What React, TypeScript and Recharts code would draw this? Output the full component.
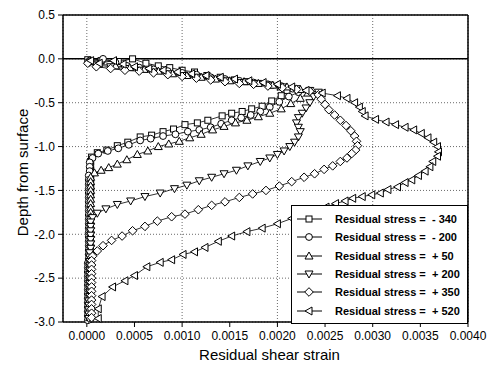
import React from "react";
import {
  LineChart,
  Line,
  XAxis,
  YAxis,
  CartesianGrid,
  ReferenceLine,
  Legend,
  Label,
} from "recharts";

type Pt = [number, number]; // [shear strain, depth]

// residual stress = -340
const STRESS_M340: Pt[] = [
  [0.00001, -0.01], [0.00015, -0.02], [0.00033, -0.03], [0.00048, 0.0], [0.00062, -0.05], [0.00075, -0.08],
  [0.00087, -0.1], [0.001, -0.13], [0.00113, -0.15], [0.00126, -0.19], [0.0014, -0.21], [0.00155, -0.24],
  [0.00168, -0.26], [0.0018, -0.28], [0.00193, -0.3], [0.00203, -0.32], [0.0021, -0.36],
  [0.00204, -0.42], [0.00194, -0.48], [0.00184, -0.54], [0.00173, -0.57], [0.00163, -0.6], [0.00152, -0.62],
  [0.00142, -0.65], [0.00127, -0.7], [0.00116, -0.73], [0.00103, -0.75], [0.00091, -0.8], [0.0008, -0.83],
  [0.00068, -0.87], [0.00056, -0.89], [0.00043, -0.95], [0.00032, -0.99], [0.00021, -1.04], [0.00011, -1.07],
  [0.00005, -1.12], [0.00004, -1.17], [0.00004, -1.22], [0.00004, -1.27], [0.00004, -1.32], [0.00004, -1.37],
  [0.00004, -1.42], [0.00004, -1.47], [0.00004, -1.52], [0.00003, -1.57], [0.00003, -1.62], [0.00003, -1.67],
  [0.00003, -1.72], [0.00003, -1.77], [0.00003, -1.82], [0.00003, -1.87], [0.00003, -1.92], [0.00003, -1.97],
  [0.00003, -2.02], [0.00003, -2.07], [0.00003, -2.12], [0.00003, -2.17], [0.00003, -2.22], [0.00003, -2.27],
  [0.00003, -2.32], [0.00003, -2.37], [0.00003, -2.42], [0.00003, -2.47], [0.00002, -2.52], [0.00002, -2.57],
  [0.00002, -2.62], [0.00002, -2.67], [0.00002, -2.72], [0.00002, -2.77], [0.00002, -2.82], [0.00002, -2.87],
  [0.00002, -2.92], [0.00002, -2.97],
];

// residual stress = -200
const STRESS_M200: Pt[] = [
  [0.00003, -0.02], [0.00017, 0.0], [0.0003, -0.04], [0.00042, -0.08], [0.00055, -0.1], [0.0007, -0.12],
  [0.00085, -0.14], [0.001, -0.16], [0.00115, -0.18], [0.0013, -0.21], [0.00145, -0.23], [0.0016, -0.25],
  [0.00175, -0.27], [0.0019, -0.29], [0.00204, -0.31], [0.00216, -0.34], [0.00222, -0.38],
  [0.00212, -0.43], [0.00202, -0.49], [0.00192, -0.55], [0.00182, -0.6], [0.00172, -0.64], [0.00162, -0.67],
  [0.00152, -0.7], [0.00141, -0.74], [0.0013, -0.78], [0.00118, -0.81], [0.00106, -0.83], [0.00093, -0.86],
  [0.0008, -0.88], [0.00067, -0.91], [0.00056, -0.93], [0.00044, -0.98], [0.00033, -1.02], [0.00022, -1.05],
  [0.00012, -1.08], [0.00006, -1.13], [0.00003, -1.18], [0.00003, -1.23], [0.00003, -1.28], [0.00002, -1.33],
  [0.00002, -1.38], [0.00002, -1.43], [0.00002, -1.48], [0.00002, -1.53], [0.00002, -1.58], [0.00002, -1.63],
  [0.00002, -1.68], [0.00002, -1.73], [0.00002, -1.78], [0.00002, -1.83], [0.00002, -1.88], [0.00002, -1.93],
  [0.00002, -1.98], [0.00002, -2.03], [0.00002, -2.08], [0.00002, -2.13], [0.00002, -2.18], [0.00002, -2.23],
  [0.00002, -2.28], [0.00001, -2.33], [0.00001, -2.38], [0.00001, -2.43], [0.00001, -2.48], [0.00001, -2.53],
  [0.00001, -2.58], [0.00001, -2.63], [0.00001, -2.68], [0.00001, -2.73], [0.00001, -2.78], [0.00001, -2.83],
  [0.00001, -2.88], [0.00001, -2.93], [0.00001, -2.98],
];

// residual stress = +50
const STRESS_P50: Pt[] = [
  [0.00002, -0.03], [0.00012, -0.06], [0.0003, -0.08], [0.00045, -0.1], [0.0006, -0.12], [0.00075, -0.14],
  [0.0009, -0.17], [0.00105, -0.19], [0.0012, -0.21], [0.00135, -0.23], [0.0015, -0.25], [0.00165, -0.26],
  [0.0018, -0.28], [0.00195, -0.3], [0.0021, -0.32], [0.00224, -0.35], [0.00232, -0.39],
  [0.00224, -0.45], [0.00214, -0.51], [0.00204, -0.57], [0.00192, -0.62], [0.0018, -0.66], [0.00168, -0.7],
  [0.00156, -0.73], [0.00144, -0.77], [0.00132, -0.81], [0.0012, -0.86], [0.00108, -0.9], [0.00097, -0.94],
  [0.00086, -0.97], [0.00075, -1.0], [0.00064, -1.05], [0.00053, -1.09], [0.00042, -1.15], [0.00032, -1.2],
  [0.00023, -1.24], [0.00015, -1.27], [0.00008, -1.3], [0.00004, -1.35], [0.00004, -1.4], [0.00004, -1.45],
  [0.00004, -1.5], [0.00004, -1.55], [0.00004, -1.6], [0.00004, -1.65], [0.00004, -1.7], [0.00004, -1.75],
  [0.00004, -1.8], [0.00004, -1.85], [0.00004, -1.9], [0.00004, -1.95], [0.00004, -2.0], [0.00004, -2.05],
  [0.00004, -2.1], [0.00004, -2.15], [0.00004, -2.2], [0.00004, -2.25], [0.00003, -2.3], [0.00003, -2.35],
  [0.00003, -2.4], [0.00003, -2.45], [0.00003, -2.5], [0.00003, -2.55], [0.00003, -2.6], [0.00003, -2.65],
  [0.00003, -2.7], [0.00003, -2.75], [0.00003, -2.8], [0.00003, -2.85], [0.00003, -2.9], [0.00003, -2.95],
];

// residual stress = +200
const STRESS_P200: Pt[] = [
  [0.00003, -0.04], [0.0001, -0.07], [0.00025, -0.09], [0.0004, -0.11], [0.00055, -0.13], [0.0007, -0.15],
  [0.00085, -0.17], [0.001, -0.19], [0.00115, -0.21], [0.0013, -0.23], [0.00145, -0.25], [0.0016, -0.27],
  [0.00175, -0.28], [0.0019, -0.3], [0.00205, -0.32], [0.0022, -0.34], [0.00234, -0.36], [0.00243, -0.38],
  [0.00238, -0.43], [0.00234, -0.5], [0.0023, -0.56], [0.00226, -0.62], [0.00222, -0.67], [0.0022, -0.73],
  [0.00222, -0.78], [0.00224, -0.83], [0.00222, -0.89], [0.00218, -0.95], [0.00213, -1.0], [0.00207, -1.05],
  [0.002, -1.09], [0.00192, -1.13], [0.00182, -1.17], [0.00169, -1.22], [0.00157, -1.27], [0.00144, -1.31],
  [0.00131, -1.35], [0.00118, -1.39], [0.00105, -1.44], [0.00092, -1.48], [0.00077, -1.53], [0.00061, -1.57],
  [0.00046, -1.62], [0.00032, -1.66], [0.0002, -1.71], [0.00011, -1.76], [0.00006, -1.81], [0.00004, -1.86],
  [0.00004, -1.91], [0.00004, -1.96], [0.00004, -2.01], [0.00004, -2.06], [0.00004, -2.11], [0.00004, -2.16],
  [0.00003, -2.21], [0.00003, -2.26], [0.00003, -2.31], [0.00003, -2.36], [0.00003, -2.41], [0.00003, -2.46],
  [0.00003, -2.51], [0.00003, -2.56], [0.00003, -2.61], [0.00003, -2.66], [0.00003, -2.71], [0.00002, -2.76],
  [0.00002, -2.81], [0.00002, -2.86], [0.00002, -2.91], [0.00002, -2.96],
];

// residual stress = +350
const STRESS_P350: Pt[] = [
  [0.00001, -0.05], [0.0001, -0.09], [0.00025, -0.11], [0.0004, -0.13], [0.00055, -0.14], [0.0007, -0.16],
  [0.00085, -0.18], [0.001, -0.2], [0.00115, -0.22], [0.0013, -0.24], [0.00145, -0.26], [0.0016, -0.28],
  [0.00175, -0.29], [0.0019, -0.31], [0.00205, -0.33], [0.0022, -0.35], [0.00234, -0.37],
  [0.00243, -0.41], [0.00246, -0.46], [0.0025, -0.52], [0.00254, -0.58], [0.0026, -0.64], [0.00266, -0.7],
  [0.00272, -0.76], [0.00277, -0.82], [0.00281, -0.88], [0.00283, -0.94], [0.00284, -0.99], [0.00282, -1.04],
  [0.00278, -1.08], [0.00273, -1.13], [0.00266, -1.17], [0.00258, -1.22], [0.00249, -1.26], [0.00239, -1.31],
  [0.00228, -1.35], [0.00215, -1.4], [0.00202, -1.45], [0.00188, -1.5], [0.00174, -1.54], [0.0016, -1.58],
  [0.00145, -1.63], [0.00131, -1.67], [0.00117, -1.72], [0.00103, -1.77], [0.00089, -1.8], [0.00074, -1.85],
  [0.00061, -1.91], [0.00048, -1.96], [0.00037, -2.02], [0.00026, -2.07], [0.00017, -2.13], [0.00011, -2.19],
  [0.00006, -2.25], [0.00005, -2.3], [0.00005, -2.35], [0.00005, -2.4], [0.00005, -2.45], [0.00005, -2.5],
  [0.00005, -2.55], [0.00005, -2.6], [0.00005, -2.65], [0.00005, -2.7], [0.00005, -2.75], [0.00005, -2.8],
  [0.00005, -2.85], [0.00005, -2.9], [0.00005, -2.95],
];

// residual stress = +520
const STRESS_P520: Pt[] = [
  [0.00004, -0.02], [0.00013, -0.05], [0.00028, -0.02], [0.00038, -0.06], [0.0005, -0.09], [0.00065, -0.11],
  [0.0008, -0.13], [0.00095, -0.15], [0.0011, -0.17], [0.00125, -0.19], [0.0014, -0.21], [0.00155, -0.23],
  [0.0017, -0.25], [0.00185, -0.27], [0.002, -0.29], [0.00215, -0.32], [0.0023, -0.36],
  [0.00247, -0.39], [0.00263, -0.42], [0.00273, -0.45], [0.00281, -0.5], [0.00286, -0.55], [0.00289, -0.6],
  [0.00292, -0.65], [0.00303, -0.69], [0.00314, -0.72], [0.00324, -0.75], [0.00334, -0.78], [0.00343, -0.81],
  [0.00351, -0.85], [0.00358, -0.9], [0.00364, -0.95], [0.00368, -1.0], [0.00369, -1.06], [0.00368, -1.11],
  [0.00363, -1.17], [0.0036, -1.23], [0.00355, -1.28], [0.00348, -1.33], [0.00341, -1.38], [0.00334, -1.41],
  [0.00326, -1.46], [0.00316, -1.49], [0.00308, -1.53], [0.00299, -1.55], [0.00289, -1.57], [0.00279, -1.59],
  [0.00271, -1.62], [0.00261, -1.65], [0.00251, -1.69], [0.0024, -1.73], [0.00228, -1.77], [0.00215, -1.82],
  [0.002, -1.88], [0.00184, -1.93], [0.00168, -1.97], [0.00152, -2.02], [0.00138, -2.08], [0.00124, -2.15],
  [0.00113, -2.2], [0.00101, -2.23], [0.00089, -2.29], [0.00077, -2.32], [0.00063, -2.37], [0.0005, -2.47],
  [0.0004, -2.53], [0.00027, -2.6], [0.00016, -2.71], [0.00012, -2.85], [0.00012, -2.96],
];

const X_TICKS = [0, 0.0005, 0.001, 0.0015, 0.002, 0.0025, 0.003, 0.0035, 0.004];
const X_MINOR = [-0.00025, 0.00025, 0.00075, 0.00125, 0.00175, 0.00225, 0.00275, 0.00325, 0.00375];
const Y_TICKS = [-3, -2.5, -2, -1.5, -1, -0.5, 0, 0.5];
const Y_MINOR = [-2.75, -2.25, -1.75, -1.25, -0.75, -0.25, 0.25];

type Shape = "square" | "circle" | "up" | "down" | "diamond" | "left";

const SERIES: { name: string; label: string; shape: Shape; data: Pt[] }[] = [
  { name: "m340", label: "Residual stress =  - 340", shape: "square", data: STRESS_M340 },
  { name: "m200", label: "Residual stress =  - 200", shape: "circle", data: STRESS_M200 },
  { name: "p50", label: "Residual stress =  + 50", shape: "up", data: STRESS_P50 },
  { name: "p200", label: "Residual stress =  + 200", shape: "down", data: STRESS_P200 },
  { name: "p350", label: "Residual stress =  + 350", shape: "diamond", data: STRESS_P350 },
  { name: "p520", label: "Residual stress =  + 520", shape: "left", data: STRESS_P520 },
];

const FONT = "'Liberation Sans', Arial, sans-serif";

function Marker({ shape, cx, cy }: { shape: Shape; cx: number; cy: number }) {
  const st = { fill: "#fff", stroke: "#000", strokeWidth: 1 };
  switch (shape) {
    case "square":
      return <rect x={cx - 3} y={cy - 3} width={6} height={6} {...st} />;
    case "circle":
      return <circle cx={cx} cy={cy} r={3.4} {...st} />;
    case "up":
      return <polygon points={`${cx},${cy - 4} ${cx + 4},${cy + 3} ${cx - 4},${cy + 3}`} {...st} />;
    case "down":
      return <polygon points={`${cx - 4},${cy - 3} ${cx + 4},${cy - 3} ${cx},${cy + 4}`} {...st} />;
    case "diamond":
      return <polygon points={`${cx},${cy - 4.3} ${cx + 4.3},${cy} ${cx},${cy + 4.3} ${cx - 4.3},${cy}`} {...st} />;
    default:
      return <polygon points={`${cx - 4},${cy} ${cx + 3},${cy - 4} ${cx + 3},${cy + 4}`} {...st} />;
  }
}

const toPoints = (pts: Pt[]) => pts.map(([x, y]) => ({ x, y }));

function LegendBox() {
  return (
    <div
      style={{
        background: "#fff",
        border: "1.5px solid #000",
        padding: "4px 0 3px 4px",
        fontFamily: FONT,
        fontSize: 11,
        fontWeight: "bold",
        boxSizing: "border-box",
        width: 177,
      }}
    >
      {SERIES.map((s) => (
        <div key={s.name} style={{ display: "flex", alignItems: "center", height: 18.3 }}>
          <svg width={38} height={12} style={{ marginRight: 1 }}>
            <line x1={1} y1={6} x2={26} y2={6} stroke="#000" strokeWidth={1} />
            <Marker shape={s.shape} cx={13} cy={6} />
          </svg>
          <span style={{ whiteSpace: "pre" }}>{s.label}</span>
        </div>
      ))}
    </div>
  );
}

export default function App() {
  return (
    <div style={{ position: "absolute", left: 0, top: 0, background: "#fff" }}>
      <LineChart width={494} height={370} margin={{ top: 15, right: 26, left: 0, bottom: 0 }}>
        <CartesianGrid stroke="#444" strokeDasharray="1 2" strokeWidth={0.8} />
        <XAxis
          xAxisId="minor"
          type="number"
          dataKey="x"
          domain={[-0.00025, 0.004]}
          ticks={X_MINOR}
          height={0}
          axisLine={false}
          tickLine={{ stroke: "#000", strokeWidth: 1 }}
          tickSize={3}
          tick={() => <g />}
        />
        <XAxis
          type="number"
          dataKey="x"
          domain={[-0.00025, 0.004]}
          ticks={X_TICKS}
          height={48}
          tickFormatter={(v: number) => v.toFixed(4)}
          axisLine={{ stroke: "#000", strokeWidth: 1.5 }}
          tickLine={{ stroke: "#000", strokeWidth: 1 }}
          tickSize={5}
          tickMargin={4}
          tick={{ fill: "#000", fontSize: 12, fontFamily: FONT }}
        >
          <Label
            content={({ viewBox }: any) => (
              <text
                x={viewBox.x + viewBox.width / 2 + 4}
                y={viewBox.y + 38}
                textAnchor="middle"
                fontFamily={FONT}
                fontSize={15}
                fill="#000"
              >
                Residual shear strain
              </text>
            )}
          />
        </XAxis>
        <YAxis
          yAxisId="minor"
          type="number"
          domain={[-3, 0.5]}
          ticks={Y_MINOR}
          width={0}
          axisLine={false}
          tickLine={{ stroke: "#000", strokeWidth: 1 }}
          tickSize={3}
          tick={() => <g />}
        />
        <YAxis
          type="number"
          domain={[-3, 0.5]}
          ticks={Y_TICKS}
          width={63}
          tickFormatter={(v: number) => v.toFixed(1)}
          axisLine={{ stroke: "#000", strokeWidth: 1.5 }}
          tickLine={{ stroke: "#000", strokeWidth: 1 }}
          tickSize={5}
          tickMargin={3}
          tick={{ fill: "#000", fontSize: 12, fontFamily: FONT }}
        >
          <Label
            content={({ viewBox }: any) => {
              const cx = viewBox.x + 22;
              const cy = viewBox.y + viewBox.height / 2 + 4;
              return (
                <text
                  x={cx}
                  y={cy}
                  transform={`rotate(-90 ${cx} ${cy})`}
                  textAnchor="middle"
                  dominantBaseline="central"
                  fontFamily={FONT}
                  fontSize={15}
                  fill="#000"
                >
                  Depth from surface
                </text>
              );
            }}
          />
        </YAxis>
        <ReferenceLine y={0.5} stroke="#000" strokeWidth={1.5} />
        <ReferenceLine x={0.004} stroke="#000" strokeWidth={1.5} />
        <ReferenceLine y={0} stroke="#000" strokeWidth={1.5} />
        {SERIES.map((s) => (
          <Line
            key={s.name}
            data={toPoints(s.data)}
            dataKey="y"
            name={s.label}
            type="linear"
            stroke="#000"
            strokeWidth={0.8}
            isAnimationActive={false}
            activeDot={false}
            dot={(p: any) => <Marker key={`${s.name}-${p.index}`} shape={s.shape} cx={p.cx} cy={p.cy} />}
          />
        ))}
        <Legend
          layout="horizontal"
          verticalAlign="middle"
          align="center"
          wrapperStyle={{ left: 291, top: 205, width: 177 }}
          content={() => <LegendBox />}
        />
      </LineChart>
    </div>
  );
}
